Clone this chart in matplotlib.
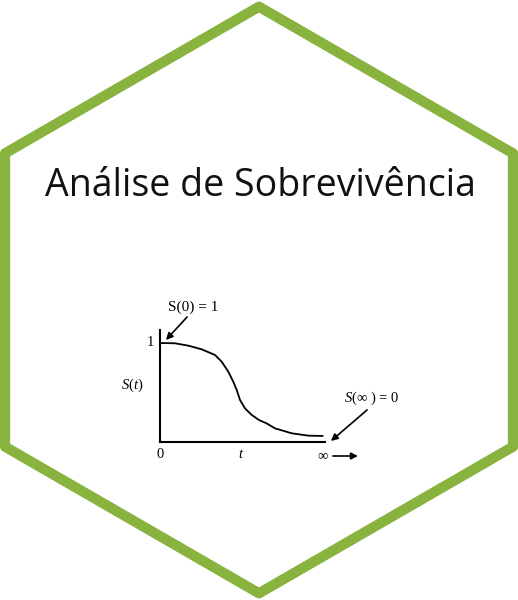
import numpy as np
import matplotlib.pyplot as plt
from matplotlib.patches import RegularPolygon

# survival curve (t in arbitrary units 0..10)
t_vals = [0.0, 0.91, 1.72, 2.53, 3.33, 3.74, 4.14, 4.44, 4.65, 4.85, 5.15, 5.56, 6.0,
          6.45, 6.97, 7.98, 8.99, 9.9]
s_vals = [1.0, 0.997, 0.973, 0.936, 0.879, 0.811, 0.710, 0.609, 0.525, 0.424, 0.340, 0.273, 0.222,
          0.189, 0.138, 0.088, 0.064, 0.061]

title = "Análise de Sobrevivência"
hex_green = "#88b33f"

plt.rcParams['mathtext.fontset'] = 'custom'
plt.rcParams['mathtext.rm'] = 'Liberation Serif'
plt.rcParams['mathtext.it'] = 'Liberation Serif:italic'

W, H = 518, 600
fig = plt.figure(figsize=(W / 100, H / 100), dpi=100)
fig.patch.set_facecolor('white')

# background axes in pixel coordinates for the hexagon + title
bg = fig.add_axes([0, 0, 1, 1])
bg.set_xlim(0, W)
bg.set_ylim(H, 0)
bg.axis('off')
R = 254 / np.cos(np.radians(30))
hexagon = RegularPolygon((259, 300), numVertices=6, radius=R, orientation=0,
                         facecolor='white', edgecolor=hex_green, linewidth=7.4,
                         joinstyle='round')
bg.add_patch(hexagon)
bg.text(260, 186, title, ha='center', va='center', fontsize=27,
        family='Open Sans', fontweight='medium', color='#111111')

# inner survival chart
ax = fig.add_axes([160 / W, (H - 442) / H, 165 / W, 112 / H])
ax.patch.set_alpha(0)
ax.plot(t_vals, s_vals, color='black', lw=1.3, solid_capstyle='butt', solid_joinstyle='round')
ax.set_xlim(0, 10)
ax.set_ylim(0, 112 / 99)
for side in ['top', 'right']:
    ax.spines[side].set_visible(False)
for side in ['left', 'bottom']:
    ax.spines[side].set_linewidth(1.5)
ax.set_xticks([])
ax.set_yticks([])

serif = 'Liberation Serif'
fs = 10.5
tr = ax.transAxes
ax.text(-0.06, 0.884, "1", transform=tr, ha='center', va='center', fontsize=fs, family=serif)
ax.text(-0.17, 0.509, "$S$($t$)", transform=tr, ha='center', va='center', fontsize=fs, family=serif)
ax.text(0.0, -0.116, "0", transform=tr, ha='center', va='center', fontsize=fs, family=serif)
ax.text(0.491, -0.116, "$t$", transform=tr, ha='center', va='center', fontsize=fs, family=serif)
ax.text(0.988, -0.125, "∞", transform=tr, ha='center', va='center', fontsize=fs, family=serif)
ax.text(0.2, 1.205, "S(0) = 1", transform=tr, ha='center', va='center', fontsize=11, family=serif)
ax.text(1.285, 0.393, "$S$(∞ ) = 0", transform=tr, ha='center', va='center', fontsize=fs, family=serif)

arrow = dict(arrowstyle='-|>', color='black', lw=1.2, mutation_scale=10, shrinkA=0, shrinkB=0)
ax.annotate("", xy=(0.036, 0.911), xytext=(0.164, 1.116), xycoords=tr, textcoords=tr,
            arrowprops=arrow, annotation_clip=False)
ax.annotate("", xy=(1.036, 0.009), xytext=(1.255, 0.286), xycoords=tr, textcoords=tr,
            arrowprops=arrow, annotation_clip=False)
ax.annotate("", xy=(1.2, -0.125), xytext=(1.048, -0.125), xycoords=tr, textcoords=tr,
            arrowprops=arrow, annotation_clip=False)

fig.savefig("out.png", dpi=100, facecolor='white')
